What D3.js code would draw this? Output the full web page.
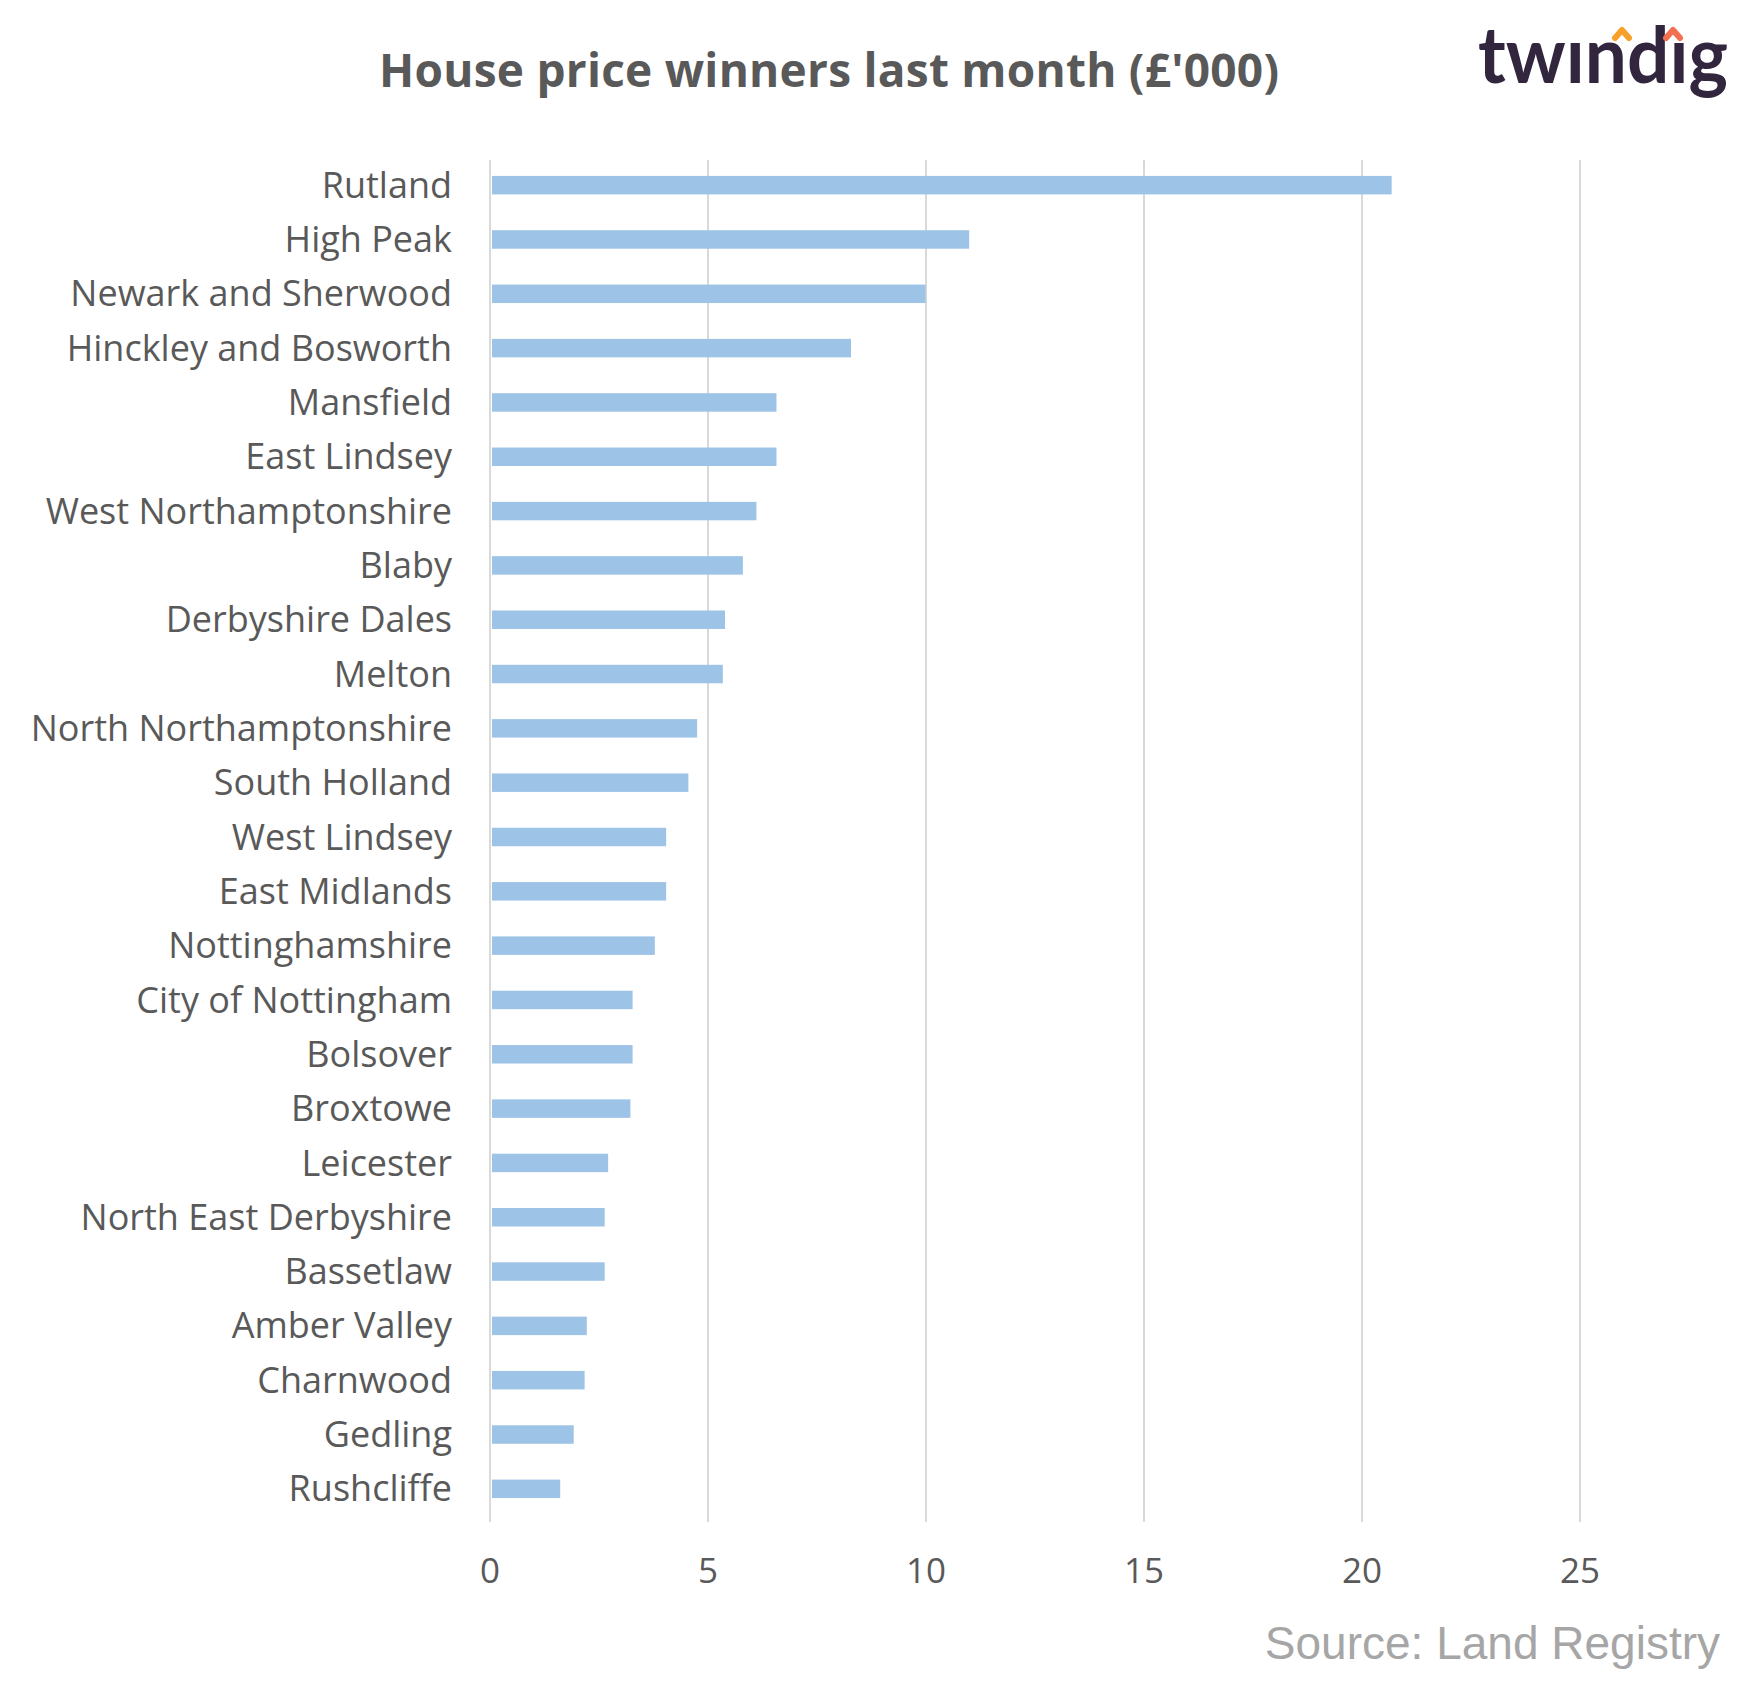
<!DOCTYPE html>
<html><head><meta charset="utf-8">
<script src="https://cdn.jsdelivr.net/npm/d3@7"></script>
<style>body{margin:0;background:#fff}</style></head>
<body><svg id="c" width="1748" height="1695"></svg>
<script>
const categories = ["Rutland","High Peak","Newark and Sherwood","Hinckley and Bosworth","Mansfield","East Lindsey","West Northamptonshire","Blaby","Derbyshire Dales","Melton","North Northamptonshire","South Holland","West Lindsey","East Midlands","Nottinghamshire","City of Nottingham","Bolsover","Broxtowe","Leicester","North East Derbyshire","Bassetlaw","Amber Valley","Charnwood","Gedling","Rushcliffe"];
const values = [20.68,10.99,9.99,8.28,6.57,6.57,6.11,5.80,5.39,5.34,4.75,4.55,4.04,4.04,3.78,3.27,3.27,3.22,2.71,2.63,2.63,2.22,2.17,1.92,1.61];
const ticks = [0,5,10,15,20,25];

const svg = d3.select("#c");
const x = d3.scaleLinear().domain([0,25]).range([490,1580]);
const y = d3.scaleBand().domain(categories).range([158,1516]).paddingInner(0.66).paddingOuter(0.33);

svg.selectAll(".grid").data(ticks).join("line")
  .attr("x1",d=>x(d)).attr("x2",d=>x(d)).attr("y1",160).attr("y2",1522)
  .attr("stroke","#d9d9d9").attr("stroke-width",2);

svg.selectAll(".bar").data(values).join("rect")
  .attr("x",x(0)+2).attr("y",(d,i)=>y(categories[i]))
  .attr("width",d=>x(d)-x(0)-2).attr("height",y.bandwidth())
  .attr("fill","#9dc3e6");

svg.selectAll(".cat").data(categories).join("text")
  .attr("x",452).attr("y",d=>y(d)+y.bandwidth()/2).attr("dy","0.35em")
  .attr("text-anchor","end").attr("font-family","Open Sans, sans-serif")
  .attr("font-size",36).attr("fill","#595959").text(d=>d);

svg.selectAll(".tick").data(ticks).join("text")
  .attr("x",d=>x(d)).attr("y",1571).attr("dy","0.35em").attr("text-anchor","middle")
  .attr("font-family","Open Sans, sans-serif").attr("font-size",35).attr("fill","#595959").text(d=>d);

svg.append("text").attr("x",829).attr("y",87).attr("text-anchor","middle")
  .attr("font-family","Open Sans, sans-serif").attr("font-weight","bold")
  .attr("font-size",46).attr("fill","#595959").attr("textLength",900)
  .text("House price winners last month (£'000)");

svg.append("text").attr("x",1720).attr("y",1659).attr("text-anchor","end")
  .attr("font-family","Liberation Sans, Arial, sans-serif")
  .attr("font-size",46).attr("fill","#a6a6a6").text("Source: Land Registry");

svg.append("text").attr("x",1478).attr("y",83)
  .attr("font-family","Lato, sans-serif").attr("font-weight","bold").attr("font-size",78)
  .attr("fill","#32263f").attr("textLength",250).attr("lengthAdjust","spacingAndGlyphs").text("twındıg");
[[1622,"#f7a12a"],[1673,"#f26f4f"]].forEach(([cx,c])=>{
  svg.append("path").attr("d",`M${cx-7},${38} L${cx},${30} L${cx+7},${38}`)
    .attr("fill","none").attr("stroke",c).attr("stroke-width",6).attr("stroke-linecap","round").attr("stroke-linejoin","round");
});
</script></body></html>
